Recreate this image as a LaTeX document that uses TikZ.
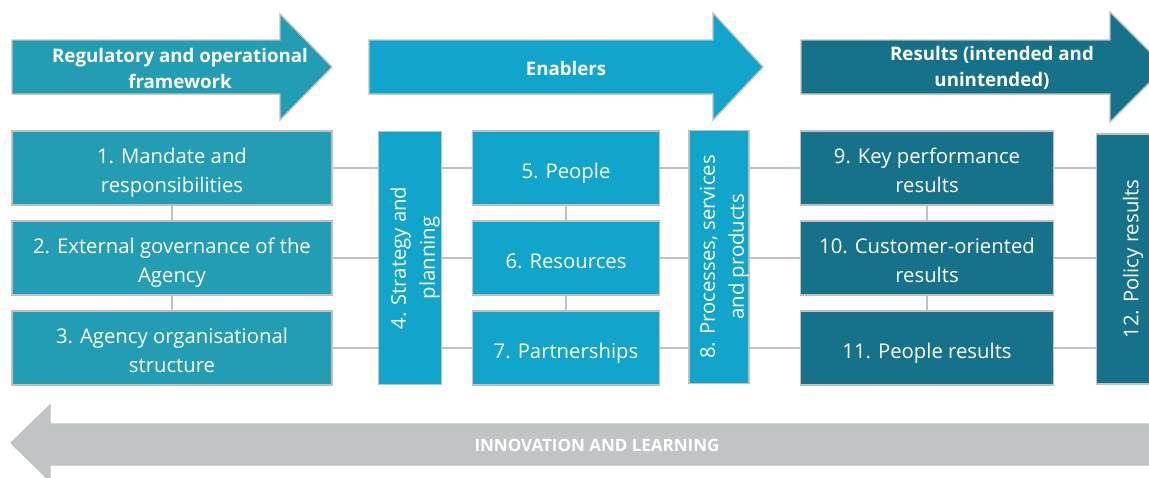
\documentclass[tikz,border=0pt]{standalone}
\usepackage{fontspec}
\setmainfont{Open Sans}
\usetikzlibrary{backgrounds}
\definecolor{frame}{RGB}{35,157,180}
\definecolor{enab}{RGB}{17,165,204}
\definecolor{result}{RGB}{21,114,138}
\definecolor{learn}{RGB}{192,196,197}
\definecolor{edge}{RGB}{192,192,192}
% box text, set a little below the middle
\newcommand{\lbl}[1]{\raisebox{-4.5pt}[\height][\depth]{\begin{tabular}{@{}c@{}}#1\end{tabular}}}
\begin{document}
\begin{tikzpicture}[x=1pt,y=-1pt,line join=miter,
	box/.style={draw=edge,line width=1.3pt,text=white,inner sep=0pt,font=\fontsize{20.3}{29}\selectfont,minimum height=74pt},
	head/.style={text=white,align=center,font=\bfseries\fontsize{18.7}{26}\selectfont},
	link/.style={draw=edge,line width=1.3pt}]
	\useasboundingbox (0,0) rectangle (1149,477);
	\clip (0,0) rectangle (1149,477);
	% arrows on top
	\filldraw[draw=edge,line width=1.3pt,fill=frame] (12,40)--(280,40)--(280,14)--(332,67)--(280,120)--(280,94)--(12,94)--cycle;
	\filldraw[draw=edge,line width=1.3pt,fill=enab] (369,40)--(713,40)--(713,13)--(763,67)--(713,120)--(713,94)--(369,94)--cycle;
	\filldraw[draw=edge,line width=1.3pt,fill=result] (801,40)--(1110,40)--(1110,12)--(1165,67)--(1110,122)--(1110,94)--(801,94)--cycle;
	\node[head] (hf) at (180,68) {Regulatory and operational\\framework};
	\node[head] (he) at (566,68) {Enablers};
	\node[head] (hr) at (992,68) {Results (intended and\\unintended)};
	% arrow at the bottom
	\filldraw[draw=edge,line width=1.3pt,fill=learn] (1155,424)--(50,424)--(50,405)--(11,443)--(50,481)--(50,465)--(1155,465)--cycle;
	\node[head,font=\bfseries\fontsize{17}{20}\selectfont] (hl) at (597,445) {INNOVATION AND LEARNING};
	% boxes
	\node[box,fill=frame,minimum width=320pt] (m1) at (172,168) {\lbl{1. Mandate and\\responsibilities}};
	\node[box,fill=frame,minimum width=320pt] (m2) at (172,258) {\lbl{2. External governance of the\\Agency}};
	\node[box,fill=frame,minimum width=320pt] (m3) at (172,348) {\lbl{3. Agency organisational\\structure}};
	\node[box,fill=enab,rotate=90,minimum width=253pt,minimum height=63pt] (m4) at (410,258) {\lbl{4. Strategy and\\planning}};
	\node[box,fill=enab,minimum width=187pt] (m5) at (566,168) {\lbl{5. People}};
	\node[box,fill=enab,minimum width=187pt] (m6) at (566,258) {\lbl{6. Resources}};
	\node[box,fill=enab,minimum width=187pt] (m7) at (566,348) {\lbl{7. Partnerships}};
	\node[box,fill=enab,rotate=90,minimum width=253pt,minimum height=60pt] (m8) at (719,257) {\lbl{8. Processes, services\\and products}};
	\node[box,fill=result,minimum width=253pt] (m9) at (927,168) {\lbl{9. Key performance\\results}};
	\node[box,fill=result,minimum width=253pt] (m10) at (927,258) {\lbl{10. Customer-oriented\\results}};
	\node[box,fill=result,minimum width=253pt] (m11) at (927,348) {\lbl{11. People results}};
	\node[box,fill=result,rotate=90,minimum width=250pt,minimum height=63pt] (m12) at (1128,259) {\lbl{12. Policy results}};
	% links behind the boxes
	\begin{scope}[on background layer]
	\draw[link] (m1)--(m3) (m5)--(m7) (m9)--(m11);
	\foreach \a/\b/\c in {1/5/9,2/6/10,3/7/11} \draw[link] (m\a)--(m\b)--(m\c)--(m\c -| m12);
	\end{scope}
\end{tikzpicture}
\end{document}
